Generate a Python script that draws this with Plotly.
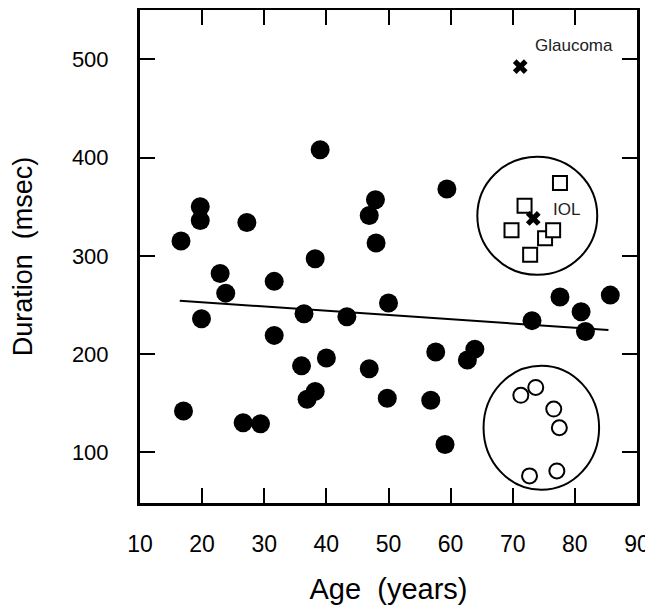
import plotly.graph_objects as go

# Filled circles (main sample)
age = [16.6, 17.0, 19.7, 19.7, 19.9, 22.9, 23.8, 26.6, 27.2, 29.4, 31.6, 31.6,
       36.0, 36.4, 36.9, 38.2, 38.2, 39.0, 40.0, 43.3, 46.9, 46.9, 47.9, 48.0,
       50.0, 49.8, 56.8, 57.6, 59.1, 59.4, 62.7, 63.9, 73.1, 77.6, 81.0, 81.7, 85.7]
duration = [315, 142, 350, 336, 236, 282, 262, 130, 334, 129, 274, 219,
            188, 241, 154, 162, 297, 408, 196, 238, 185, 341, 357, 313,
            252, 155, 153, 202, 108, 368, 194, 205, 234, 258, 243, 223, 260]

# Regression line end points
fit_age = [16.4, 85.4]
fit_dur = [254.3, 224.5]

# IOL group (open squares)
iol_age = [77.6, 71.9, 69.8, 75.2, 76.5, 72.8]
iol_dur = [374, 351, 326, 318, 326, 301]

# Open circles group
oc_age = [71.3, 73.7, 76.6, 77.5, 72.7, 77.1]
oc_dur = [158, 166, 144, 125, 76, 81]

# X markers (Glaucoma, IOL mean)
x_age = [71.2, 73.3]
x_dur = [492.5, 338]

# Group ellipses (x0, x1, y0, y1)
ell_iol = [64.3, 83.6, 280.6, 400.9]
ell_oc = [65.3, 83.9, 61.8, 188.2]

xticks = [10, 20, 30, 40, 50, 60, 70, 80, 90]
yticks = [100, 200, 300, 400, 500]

FONT = "Liberation Sans, Arial, Helvetica, sans-serif"

fig = go.Figure()
fig.add_trace(go.Scatter(x=fit_age, y=fit_dur, mode="lines",
                         line=dict(color="black", width=2), hoverinfo="skip"))
fig.add_trace(go.Scatter(x=age, y=duration, mode="markers",
                         marker=dict(symbol="circle", size=19, color="black",
                                     line=dict(width=0))))
fig.add_trace(go.Scatter(x=iol_age, y=iol_dur, mode="markers",
                         marker=dict(symbol="square", size=14, color="white",
                                     line=dict(color="black", width=2))))
fig.add_trace(go.Scatter(x=oc_age, y=oc_dur, mode="markers",
                         marker=dict(symbol="circle", size=15, color="white",
                                     line=dict(color="black", width=2))))
fig.add_trace(go.Scatter(x=x_age, y=x_dur, mode="markers",
                         marker=dict(symbol="x", size=13, color="black",
                                     line=dict(width=0))))

for e in (ell_iol, ell_oc):
    fig.add_shape(type="circle", xref="x", yref="y", x0=e[0], x1=e[1], y0=e[2], y1=e[3],
                  line=dict(color="black", width=2), layer="below")

fig.add_annotation(x=79.8, y=514.5, text="Glaucoma", showarrow=False,
                   font=dict(size=17, color="#222", family=FONT))
fig.add_annotation(x=78.6, y=346.7, text="IOL", showarrow=False,
                   font=dict(size=17, color="#222", family=FONT))

axis_common = dict(showline=True, linecolor="black", linewidth=3, mirror="ticks",
                   ticks="inside", ticklen=15, tickwidth=2, tickcolor="black",
                   showgrid=False, zeroline=False, automargin=False)

fig.update_xaxes(range=[10, 90], tickvals=xticks, ticktext=[str(v) for v in xticks],
                 tickfont=dict(size=23, family=FONT, color="black"),
                 ticklabelstandoff=18,
                 title=dict(text="Age  (years)", font=dict(size=29, family=FONT, color="black"),
                            standoff=24),
                 **axis_common)
fig.update_yaxes(range=[48.4, 550.2], tickvals=yticks, ticktext=[str(v) for v in yticks],
                 tickfont=dict(size=22, family=FONT, color="black"),
                 ticklabelstandoff=24,
                 title=dict(text="Duration  (msec)", font=dict(size=27, family=FONT, color="black"),
                            standoff=43),
                 **axis_common)

# The page places the figure 8 px from the top-left corner, so the figure is
# sized to fill the remaining 645x607 area.
fig.update_layout(width=645, height=607, showlegend=False,
                  plot_bgcolor="white", paper_bgcolor="white",
                  margin=dict(l=132, r=16, t=2, b=112, autoexpand=False),
                  font=dict(family=FONT))

fig.write_html("out.html")
